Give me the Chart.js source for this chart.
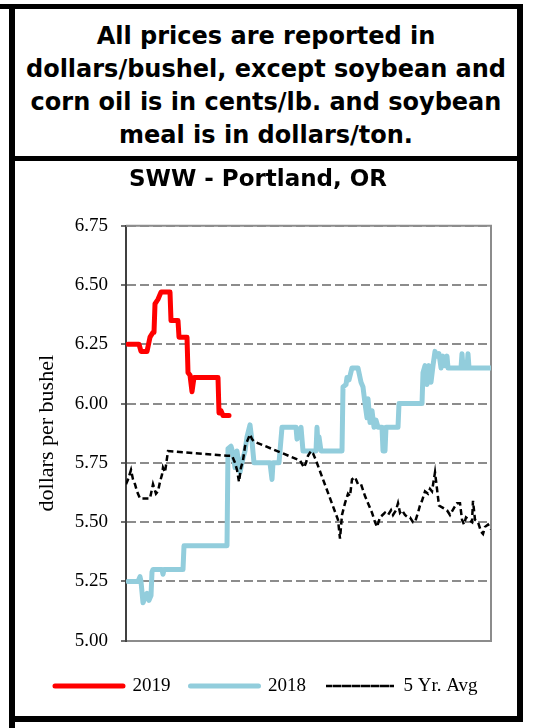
<!DOCTYPE html>
<html><head><meta charset="utf-8">
<script src="https://cdn.jsdelivr.net/npm/chart.js@4/dist/chart.umd.min.js"></script>
<style>
html,body{margin:0;padding:0;background:#fff;width:537px;height:728px;overflow:hidden;position:relative;}
.bar{position:absolute;background:#000;z-index:2;}
#note{position:absolute;left:15px;width:502px;top:19.5px;text-align:center;white-space:nowrap;font-family:'DejaVu Sans',Verdana,sans-serif;font-weight:bold;font-size:24px;line-height:33.3px;color:#000;}
#chartWrap{position:absolute;left:15px;top:161px;width:502px;height:555px;}
</style></head><body>
<div class="bar" style="left:0;top:4px;width:523px;height:5px"></div>
<div class="bar" style="left:9px;top:9px;width:6px;height:719px"></div>
<div class="bar" style="left:517px;top:4px;width:6px;height:718px"></div>
<div class="bar" style="left:15px;top:156px;width:502px;height:5px"></div>
<div class="bar" style="left:15px;top:716px;width:508px;height:6px"></div>
<div id="note">All prices are reported in<br>dollars/bushel, except soybean and<br>corn oil is in cents/lb. and soybean<br>meal is in dollars/ton.</div>
<div id="chartWrap"><canvas id="c" width="502" height="555"></canvas></div>
<script>
const monthStarts = [0,31,59,90,120,151,181,212,243,273,304,334];
const monthLabels = ['J','F','M','A','M','J','J','A','S','O','N','D'];
const yTicks = [5.00,5.25,5.50,5.75,6.00,6.25,6.50,6.75];

const days2019  = [2,13,15,21,22,24,27,28,29,32,35,44,45,52,53,61,62,64,66,68,92,93,95,97,103];
const price2019 = [6.25,6.25,6.22,6.22,6.24,6.28,6.30,6.30,6.42,6.44,6.47,6.47,6.35,6.35,6.28,6.28,6.13,6.12,6.05,6.11,6.11,5.96,5.97,5.95,5.95];

const days2018  = [2,12,14,15,17,19,21,23,25,26,27,36,37,38,57,58,101,102,105,107,109,111,114,117,119,121,124,126,128,144,146,147,153,154,156,170,171,173,175,177,190,191,192,193,195,216,217,220,221,223,226,232,235,237,239,241,242,244,246,248,250,252,256,257,259,260,272,273,296,297,299,301,303,305,307,309,311,313,315,317,319,321,322,335,336,337,341,342,343,365];
const price2018 = [5.25,5.25,5.27,5.25,5.16,5.18,5.20,5.17,5.19,5.29,5.30,5.30,5.28,5.30,5.30,5.40,5.40,5.81,5.82,5.79,5.73,5.80,5.71,5.77,5.80,5.86,5.91,5.84,5.75,5.75,5.68,5.75,5.75,5.80,5.90,5.90,5.85,5.88,5.90,5.80,5.80,5.90,5.82,5.86,5.80,5.80,6.07,6.08,6.11,6.10,6.15,6.15,6.09,6.07,6.00,5.94,6.02,5.92,5.97,5.90,5.93,5.90,5.90,5.80,5.80,5.90,5.90,6.00,6.00,6.13,6.16,6.08,6.16,6.09,6.16,6.22,6.20,6.21,6.15,6.20,6.16,6.20,6.15,6.15,6.21,6.15,6.15,6.21,6.15,6.15];

const daysAvg  = [0,2,5,7,9,11,14,24,27,30,32,34,36,37,39,42,101,106,109,111,113,115,117,119,122,124,126,128,174,178,180,182,185,187,190,212,214,216,219,222,224,226,229,232,235,239,242,246,249,251,254,259,262,265,267,270,272,274,276,279,282,284,287,289,292,294,296,299,302,304,306,309,311,313,317,321,324,328,331,334,336,338,340,343,346,347,349,352,355,357,359,362,365];
const priceAvg = [5.66,5.68,5.72,5.68,5.66,5.63,5.60,5.60,5.66,5.62,5.63,5.67,5.70,5.73,5.71,5.80,5.78,5.78,5.75,5.72,5.67,5.73,5.76,5.82,5.85,5.87,5.85,5.84,5.76,5.73,5.75,5.78,5.80,5.79,5.76,5.51,5.43,5.53,5.58,5.62,5.61,5.68,5.69,5.66,5.66,5.61,5.58,5.54,5.50,5.48,5.52,5.54,5.53,5.55,5.53,5.55,5.58,5.54,5.55,5.53,5.52,5.52,5.50,5.50,5.54,5.57,5.59,5.63,5.62,5.64,5.63,5.71,5.64,5.57,5.56,5.55,5.53,5.56,5.58,5.58,5.51,5.49,5.52,5.51,5.50,5.59,5.51,5.50,5.46,5.45,5.48,5.49,5.47];

const pts = (d, v) => d.map((x, i) => ({x: x, y: v[i]}));

const frame = {
  id: 'frame',
  afterLayout(chart) {
    const t = chart.titleBlock;
    if (t) { t.left = 2 * 243 - t.right; }
  },
  beforeDatasetsDraw(chart) {
    const {ctx, chartArea: a} = chart;
    ctx.save();
    ctx.strokeStyle = '#8c8c8c';
    ctx.lineWidth = 2;
    ctx.setLineDash([]);
    ctx.beginPath();
    ctx.moveTo(a.left, a.top);
    ctx.lineTo(a.right, a.top);
    ctx.lineTo(a.right, a.bottom);
    ctx.stroke();
    ctx.restore();
  }
};

new Chart(document.getElementById('c'), {
  type: 'line',
  data: {
    datasets: [
      {label: '2019', data: pts(days2019, price2019), borderColor: '#ff0000', backgroundColor: '#ff0000', borderWidth: 5, pointRadius: 0, tension: 0, borderJoinStyle: 'round', borderCapStyle: 'round', order: 1},
      {label: '2018', data: pts(days2018, price2018), borderColor: '#92cddc', backgroundColor: '#92cddc', borderWidth: 5, pointRadius: 0, tension: 0, borderJoinStyle: 'round', borderCapStyle: 'round', order: 2},
      {label: '5 Yr. Avg', data: pts(daysAvg, priceAvg), borderColor: '#000000', backgroundColor: 'rgba(0,0,0,0)', borderWidth: 2.5, borderDash: [6, 3.5], pointRadius: 0, tension: 0, order: 0}
    ]
  },
  options: {
    responsive: false,
    animation: false,
    devicePixelRatio: 1,
    layout: {padding: {left: 20, right: 0, top: 0, bottom: 10.5}},
    plugins: {
      title: {display: true, text: 'SWW - Portland, OR', color: '#000',
        font: {family: "'DejaVu Sans'", weight: 'bold', size: 23, lineHeight: 1.2},
        padding: {top: 5.6, bottom: 31.5}},
      legend: {position: 'bottom', align: 'start',
        labels: {boxWidth: 68, boxHeight: 0, padding: 20, color: '#000',
          font: {family: "'Liberation Serif'", size: 19},
          sort: (a, b) => a.datasetIndex - b.datasetIndex}},
      tooltip: {enabled: false}
    },
    scales: {
      x: {
        type: 'linear', min: 0, max: 365,
        afterBuildTicks: s => { s.ticks = monthStarts.map(v => ({value: v})); },
        afterFit: s => { s.height = 15.8; },
        ticks: {autoSkip: false, maxRotation: 0, padding: 10, labelOffset: 1.5,
          callback: (v, i) => monthLabels[i],
          font: {family: "'Liberation Serif'", size: 12, weight: 'bold'}, color: '#000'},
        grid: {display: false},
        border: {display: true, color: '#8c8c8c', width: 2}
      },
      y: {
        min: 5, max: 6.75,
        afterBuildTicks: s => { s.ticks = yTicks.map(v => ({value: v})); },
        afterFit: s => { s.width = 91; },
        ticks: {padding: 13, callback: v => v.toFixed(2),
          font: {family: "'Liberation Serif'", size: 19}, color: '#000'},
        grid: {color: '#8c8c8c', lineWidth: 2, tickLength: 5, tickColor: '#404040', tickWidth: 1.5},
        border: {color: '#404040', width: 2, dash: [9, 4]},
        title: {display: true, text: 'dollars per bushel', color: '#000',
          font: {family: "'Liberation Serif'", size: 22, lineHeight: 1.0},
          padding: {top: 1, bottom: 0}}
      },
      yPad: {
        type: 'linear', position: 'right', display: true,
        grid: {display: false}, ticks: {display: false}, border: {display: false},
        afterFit: s => { s.width = 26; }
      }
    }
  },
  plugins: [frame]
});
</script>
</body></html>
